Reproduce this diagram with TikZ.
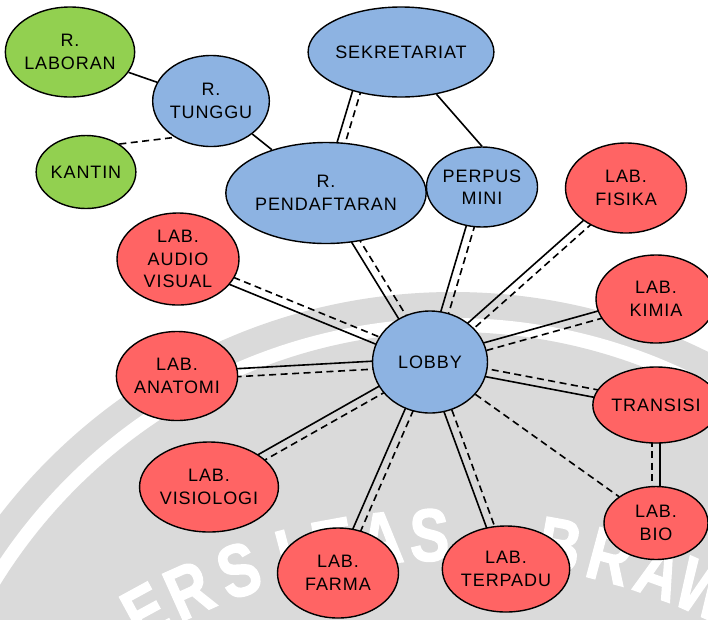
\documentclass[tikz,border=0pt]{standalone}
\usepackage{fontspec}
\usepackage{graphicx}
\setmainfont[LetterSpace=5]{Liberation Sans}
\newfontfamily\sealfont[FakeBold=2]{Liberation Sans Bold}
\usetikzlibrary{shapes.geometric,calc}
\pgfdeclarelayer{bg}
\pgfdeclarelayer{edges}
\pgfsetlayers{bg,edges,main}

\definecolor{roomgreen}{HTML}{92D050}
\definecolor{roomblue}{HTML}{8DB3E2}
\definecolor{labred}{HTML}{FF6464}
\definecolor{markgray}{HTML}{DADADA}

\tikzset{
  room/.style={ellipse, draw=black, line width=1.4pt, inner sep=0pt,
    align=center, font=\fontsize{18}{22.5}\selectfont},
  green room/.style={room, fill=roomgreen},
  blue room/.style={room, fill=roomblue},
  red room/.style={room, fill=labred},
  link/.style={line width=1.6pt, black},
  dashlink/.style={link, dash pattern=on 7pt off 4.5pt},
  seal letter/.style={text=white, inner sep=0pt,
    font=\sealfont\fontsize{74}{74}\selectfont},
}

% solid line on the left of the direction #1 -> #2, dashed line on the right
\newcommand\duo[2]{%
  \draw[link] ($(#1)!4pt!90:(#2)$) -- ($(#2)!4pt!-90:(#1)$);
  \draw[dashlink] ($(#1)!4pt!-90:(#2)$) -- ($(#2)!4pt!90:(#1)$);
}

\begin{document}
\begin{tikzpicture}[x=1pt,y=-1pt]
\useasboundingbox (0,0) rectangle (708,619);

% background seal band with its lettering
\begin{pgfonlayer}{bg}
  \fill[white] (0,0) rectangle (708,619);
  \begin{scope}
    \clip (0,0) rectangle (708,619);
    \fill[markgray] (453,864) circle (572);
    \fill[white] (453,864) circle (546);
    \fill[markgray] (453,864) circle (532);
    \foreach \ch/\ang [count=\i] in {E/118.6, R/114.2, S/109.3, I/104.8,
        T/100.4, A/96, S/91.6, B/79.7, R/75, A/70.3, W/65.8}
      \node[seal letter, rotate=\ang-90] (seal-\i)
        at ({447+630*cos(\ang)}, {1165-630*sin(\ang)}) {\scalebox{0.8}[1]{\ch}};
  \end{scope}
\end{pgfonlayer}

% rooms
\node[green room, minimum width=121pt, minimum height=90pt] (laboran) at (70,52) {R.\\LABORAN};
\node[green room, minimum width=91pt, minimum height=73pt] (kantin) at (86,172) {KANTIN};
\node[blue room, minimum width=90pt, minimum height=91pt] (tunggu) at (211,101) {R.\\TUNGGU};
\node[blue room, minimum width=136pt, minimum height=90pt] (sekretariat) at (401,52) {SEKRETARIAT};
\node[blue room, minimum width=139pt, minimum height=101pt] (pendaftaran) at (326,193) {R.\\PENDAFTARAN};
\node[blue room, minimum width=100pt, minimum height=80pt] (perpus) at (482,187) {PERPUS\\MINI};
\node[blue room, minimum width=115pt, minimum height=102pt] (lobby) at (430,362) {LOBBY};

% laboratories
\node[red room, minimum width=121pt, minimum height=90pt] (fisika) at (626,188) {LAB.\\FISIKA};
\node[red room, minimum width=120pt, minimum height=88pt] (kimia) at (656,299) {LAB.\\KIMIA};
\node[red room, minimum width=104pt, minimum height=76pt] (transisi) at (656,405) {TRANSISI};
\node[red room, minimum width=104pt, minimum height=73pt] (bio) at (656,523) {LAB.\\BIO};
\node[red room, minimum width=121pt, minimum height=86pt] (terpadu) at (506,569) {LAB.\\TERPADU};
\node[red room, minimum width=121pt, minimum height=90pt] (farma) at (338,573) {LAB.\\FARMA};
\node[red room, minimum width=122pt, minimum height=90pt] (visiologi) at (209,487) {LAB.\\VISIOLOGI};
\node[red room, minimum width=120pt, minimum height=89pt] (anatomi) at (177,376) {LAB.\\ANATOMI};
\node[red room, minimum width=122pt, minimum height=92pt] (audio) at (178,259) {LAB.\\AUDIO\\VISUAL};

% end point of the secretariat link, inside the secretariat ellipse
\coordinate (sekin) at ($(pendaftaran)!1.15!(sekretariat.222)$);

% connections
\begin{pgfonlayer}{edges}
  \draw[link] (laboran) -- (tunggu);
  \draw[dashlink] (kantin.40) -- (tunggu.225);
  \draw[link] (tunggu) -- (pendaftaran);
  \draw[link] (sekretariat.-50) -- (perpus.north);
  \duo{pendaftaran}{sekin}
  \duo{lobby}{pendaftaran}
  \duo{lobby}{perpus}
  \duo{lobby}{fisika}
  \duo{lobby}{kimia}
  \duo{transisi}{lobby}
  \duo{transisi}{bio}
  \draw[dashlink] (lobby) -- (bio);
  \duo{terpadu}{lobby}
  \duo{farma}{lobby}
  \duo{visiologi}{lobby}
  \duo{anatomi}{lobby}
  \duo{lobby}{audio}
\end{pgfonlayer}
\end{tikzpicture}
\end{document}
